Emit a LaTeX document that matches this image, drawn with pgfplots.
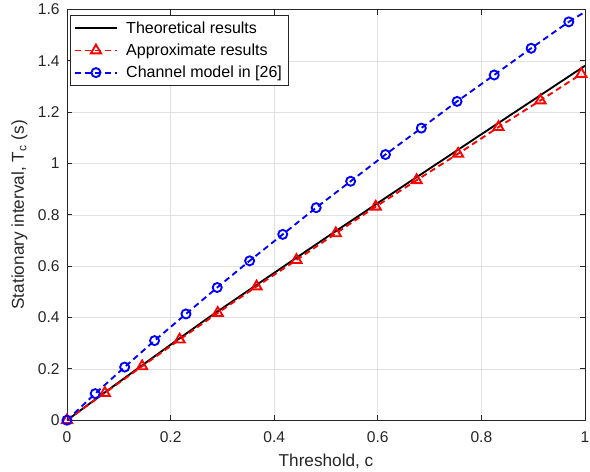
\documentclass[border=0pt]{standalone}
\usepackage{pgfplots}
\pgfplotsset{compat=1.18}
\usepackage{fontspec}
\setmainfont{Liberation Sans}
\definecolor{axgray}{RGB}{38,38,38}
\definecolor{gridgray}{RGB}{226,226,226}
\begin{document}
\begin{tikzpicture}
\useasboundingbox (-50.25pt,-38.85pt) rectangle (392.25pt,315.15pt);
\begin{axis}[
  at={(0pt,0pt)}, anchor=south west,
  scale only axis, width=388.5pt, height=308.0pt,
  xmin=0, xmax=1, ymin=0, ymax=1.6,
  xtick={0,0.2,0.4,0.6,0.8,1},
  xticklabels={0,0.2,0.4,0.6,0.8,1},
  ytick={0,0.2,0.4,0.6,0.8,1,1.2,1.4,1.6},
  yticklabels={0,0.2,0.4,0.6,0.8,1,1.2,1.4,1.6},
  tick align=inside, major tick length=3.8pt,
  xtick pos=both, ytick pos=both,
  grid=major,
  major grid style={gridgray, line width=0.5pt},
  axis line style={axgray, line width=0.6pt},
  tick style={axgray, line width=0.6pt},
  every tick label/.append style={text=axgray, font=\fontsize{11.7}{14}\selectfont},
  /pgf/number format/assume math mode=true,
  xticklabel style={yshift=-5pt},
  yticklabel style={xshift=-2pt},
  xlabel={Threshold, c},
  ylabel={Stationary interval, T\textsubscript{c} (s)},
  label style={text=axgray, font=\fontsize{12.9}{15}\selectfont},
  xlabel style={yshift=-2pt},
  ylabel style={yshift=1pt},
  legend cell align=left,
  legend style={at={(rel axis cs:0.006,0.986)}, anchor=north west,
    draw=axgray, fill=white,
    font=\fontsize{12}{14}\selectfont, text=black,
    inner xsep=2.5pt, inner ysep=2.5pt, row sep=2.4pt},
  legend image code/.code={\draw[mark repeat=2,mark phase=2,#1,line width=1.4pt] plot coordinates {(0pt,0pt) (16pt,0pt) (32pt,0pt)};\path (36pt,0pt);},
]
\addplot[black, line width=1.4pt] coordinates {
(0,0) (0.1,0.148) (0.2,0.294) (0.27,0.395) (0.4,0.574) (0.5,0.711) (0.64,0.900) (0.8,1.114) (1,1.381)
};
\addlegendentry{Theoretical results}
\addplot[red, line width=1.4pt, dash pattern=on 4.5pt off 3pt,
  mark=triangle, mark size=4.4pt, mark options={solid, line width=1.4pt}] coordinates {
(0,0) (0.073,0.106) (0.145,0.21) (0.2175,0.314) (0.291,0.418) (0.366,0.521) (0.443,0.624) (0.519,0.728) (0.596,0.832) (0.675,0.935) (0.755,1.038) (0.833,1.142) (0.914,1.246) (0.993,1.349)
};
\addlegendentry{Approximate results}
\addplot[blue, line width=1.4pt, dash pattern=on 4.5pt off 3pt,
  mark=o, mark size=3.4pt, mark options={solid, line width=1.4pt}] coordinates {
(0,0) (0.0544,0.1035) (0.1113,0.207) (0.169,0.31) (0.2297,0.414) (0.290,0.517) (0.3526,0.621) (0.4165,0.724) (0.481,0.828) (0.5476,0.931) (0.6148,1.035) (0.684,1.138) (0.753,1.242) (0.8247,1.345) (0.896,1.449) (0.9687,1.552)
};
\addlegendentry{Channel model in [26]}
\addplot[forget plot, blue, line width=1.4pt, dash pattern=on 4.5pt off 3pt, no marks] coordinates {
(0.9687,1.552) (1,1.591)
};
\end{axis}
\end{tikzpicture}
\end{document}
